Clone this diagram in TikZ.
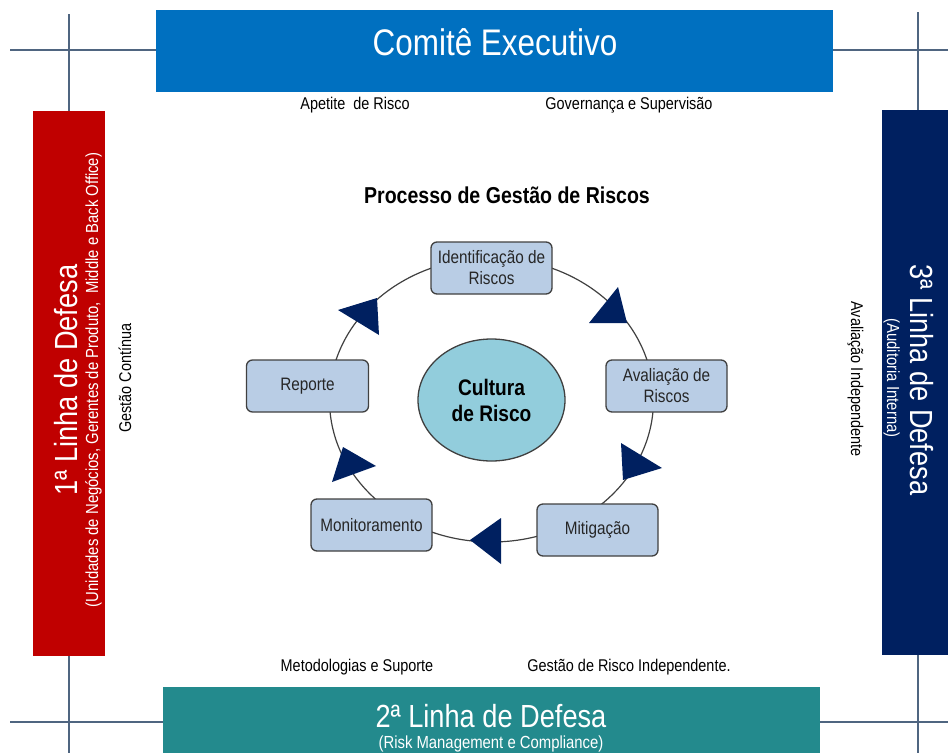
\documentclass[tikz,border=0pt]{standalone}
\usepackage{fontspec}
\setmainfont{Liberation Sans}[FakeStretch=0.85]
\usetikzlibrary{shapes.geometric, arrows}
\definecolor{azulcomite}{HTML}{0070C0}
\definecolor{vermelho}{HTML}{C00000}
\definecolor{verdeagua}{HTML}{238A8D}
\definecolor{marinho}{HTML}{002060}
\definecolor{azulcaixa}{HTML}{B9CDE5}
\definecolor{azulcultura}{HTML}{92CDDC}
\definecolor{cinzaborda}{HTML}{404040}
\definecolor{cinzagrade}{HTML}{4F6580}
\tikzstyle{grade} = [line width=1.8pt, draw=cinzagrade]
\tikzstyle{faixa} = [rectangle, inner sep=0pt, draw=none]
\tikzstyle{titulo} = [inner sep=0pt, anchor=base, text=white, font=\fontsize{32}{36}\selectfont]
\tikzstyle{subtitulo} = [inner sep=0pt, anchor=base, text=white, font=\fontsize{17.5}{20}\selectfont]
\tikzstyle{rotulo} = [inner sep=0pt, anchor=base, font=\fontsize{17}{20}\selectfont]
\tikzstyle{processo} = [rectangle, rounded corners=6pt, minimum width=121pt, minimum height=52pt, inner sep=2pt, align=center, draw=cinzaborda, line width=1.3pt, fill=azulcaixa, text=black!85, font=\fontsize{18}{21}\selectfont]
\tikzstyle{nucleo} = [ellipse, minimum width=147pt, minimum height=122pt, inner sep=0pt, align=center, draw=cinzaborda, line width=1.3pt, fill=azulcultura, font=\bfseries\fontsize{22.5}{26}\selectfont]
\tikzstyle{anel} = [line width=1.2pt, draw=cinzaborda]
\tikzstyle{seta} = [fill=marinho]

\begin{document}
\begin{tikzpicture}[x=1pt, y=-1pt, node distance=132pt]
\useasboundingbox (0,0) rectangle (948,753);
% linhas de fundo
\draw [grade] (69,14) -- (69,753);
\draw [grade] (918,12) -- (918,753);
\draw [grade] (10,50) -- (948,50);
\draw [grade] (10,722) -- (948,722);
% faixas das linhas de defesa
\node (comite) [faixa, fill=azulcomite, minimum width=677pt, minimum height=82pt] at (494.5,51) {};
\node (linha1) [faixa, fill=vermelho, minimum width=72pt, minimum height=545pt] at (68.5,383.5) {};
\node (linha3) [faixa, fill=marinho, minimum width=66pt, minimum height=545pt] at (915,382.5) {};
\node (linha2) [faixa, fill=verdeagua, minimum width=657pt, minimum height=66pt] at (491.5,720) {};
\node (comitetxt) [titulo, font=\fontsize{37}{40}\selectfont] at (495,55) {Comitê Executivo};
\node (linha1txt) [titulo, rotate=90] at (77,380) {1ª Linha de Defesa};
\node (linha1sub) [subtitulo, rotate=90] at (98,380) {(Unidades de Negócios, Gerentes de Produto,\ \ Middle e Back Office)};
\node (linha3txt) [titulo, rotate=-90] at (910,380) {3ª Linha de Defesa};
\node (linha3sub) [subtitulo, rotate=-90] at (887,378) {(Auditoria Interna)};
\node (linha2txt) [titulo] at (491,727) {2ª Linha de Defesa};
\node (linha2sub) [subtitulo] at (491,748) {(Risk Management e Compliance)};
% rotulos
\node (apetite) [rotulo] at (355,109) {Apetite\ \ de Risco};
\node (governanca) [rotulo] at (629,109) {Governança e Supervisão};
\node (metodologias) [rotulo] at (357,671) {Metodologias e Suporte};
\node (independente) [rotulo] at (629,671) {Gestão de Risco Independente.};
\node (continua) [rotulo, rotate=90] at (131,378) {Gestão Contínua};
\node (avaliacao) [rotulo, rotate=-90] at (851,379) {Avaliação Independente};
\node (processo) [rotulo, font=\bfseries\fontsize{23}{26}\selectfont] at (507,203) {Processo de Gestão de Riscos};
% ciclo
\node (cultura) [nucleo] at (491.5,400) {Cultura\\de Risco};
\draw [anel] (cultura.center) ellipse [x radius=162pt, y radius=142pt];
\node (ident) [processo, above of=cultura] {Identificação de\\Riscos};
\node (aval) [processo, right of=cultura, xshift=43pt, yshift=14pt] {Avaliação de\\Riscos};
\node (mitig) [processo, below of=cultura, xshift=106pt, yshift=2pt] {Mitigação};
\node (monit) [processo, below of=cultura, xshift=-120pt, yshift=7pt] {Monitoramento};
\node (report) [processo, left of=cultura, xshift=-52pt, yshift=14pt, minimum width=122pt] {Reporte};
\fill [seta] (338,310) -- (377,298) -- (379,335) -- cycle;
\fill [seta] (589,323) -- (618,287) -- (627,323) -- cycle;
\fill [seta] (621,443) -- (662,468) -- (623,480) -- cycle;
\fill [seta] (470,540) -- (501,518) -- (501,564) -- cycle;
\fill [seta] (332,482) -- (343,447) -- (376,466) -- cycle;
\end{tikzpicture}
\end{document}
